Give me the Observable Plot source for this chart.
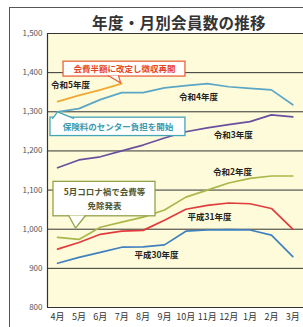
<!DOCTYPE html>
<html>
<head>
<meta charset="utf-8">
<script src="https://cdn.jsdelivr.net/npm/d3@7"></script>
<script src="https://cdn.jsdelivr.net/npm/@observablehq/plot@0.6"></script>
<style>
  html, body { margin: 0; padding: 0; background: #fff; }
  #wrap { position: relative; width: 303px; height: 327px; overflow: hidden; font-family: "Noto Sans CJK JP", sans-serif; }
  #frame { position: absolute; left: 9px; top: 7px; width: 320px; height: 340px; border-left: 1.5px solid #555; border-top: 1.5px solid #555; box-sizing: border-box; }
  #title { position: absolute; left: 90px; top: 11px; width: 178px; text-align: center; font-size: 15.5px; font-weight: bold; color: #333; letter-spacing: 0.3px; white-space: nowrap; }
  #chart { position: absolute; left: 0; top: 0; }
</style>
</head>
<body>
<div id="wrap">
  <div id="frame"></div>
  <div id="title">年度・月別会員数の推移</div>
  <div id="chart"></div>
</div>
<script>
const months = ["4月","5月","6月","7月","8月","9月","10月","11月","12月","1月","2月","3月"];
const yTicks = [800, 900, 1000, 1100, 1200, 1300, 1400, 1500];

const seriesNames = ["平成30年度","平成31年度","令和2年度","令和3年度","令和4年度","令和5年度"];
const seriesColors = ["#3f80bf","#e03c3c","#a9b84a","#6b4f9f","#5aa6c6","#f0a832"];
const h30 = [913, 928, 941, 954, 955, 960, 995, 998, 999, 998, 985, 930];
const h31 = [949, 966, 987, 995, 997, 1023, 1051, 1061, 1067, 1065, 1053, 1000];
const r2  = [979, 974, 1005, 1018, 1031, 1049, 1082, 1100, 1118, 1130, 1136, 1136];
const r3  = [1157, 1177, 1185, 1200, 1215, 1233, 1249, 1259, 1267, 1275, 1292, 1287];
const r4  = [1300, 1308, 1331, 1349, 1349, 1361, 1367, 1372, 1364, 1360, 1356, 1318];
const r5  = [1326, 1342, 1356, 1372];
const allSeries = [h30, h31, r2, r3, r4, r5];

// series label positions (month index, value)
const labelX = [4.63, 7.1, 8.18, 8.22, 6.59, 0.61];
const labelY = [933, 1031, 1146, 1241, 1338, 1367];

// callouts
const calloutText = [["会費半額に改定し徴収再開"], ["保険料のセンター負担を開始"], ["5月コロナ禍で会費等", "免除発表"]];
const calloutBorder = ["#e8643c", "#45a5b8", "#93a24a"];
const calloutColor = ["#e8462a", "#3a9ab0", "#4d5530"];
const boxX1 = [0.28, -0.33, -0.19], boxX2 = [5.98, 5.98, 4.58];
const boxY1 = [1390, 1238, 1033], boxY2 = [1428, 1285, 1121];
const wedgeX = [[2.38, 2.95, 2.85], [-0.23, 0, 0.75], [0.52, 0.84, 1.31]];
const wedgeY = [[1392, 1374, 1392], [1283, 1300, 1283], [1035, 1003, 1035]];

const lineData = allSeries.flatMap((vals, s) => vals.map((v, i) => ({series: seriesNames[s], i, v})));
const labelData = seriesNames.map((n, s) => ({name: n, x: labelX[s], y: labelY[s]}));
const boxData = calloutText.map((t, k) => ({k, x1: boxX1[k], x2: boxX2[k], y1: boxY1[k], y2: boxY2[k]}));
const wedgeData = wedgeX.flatMap((xs, k) => xs.map((x, j) => ({k, x, y: wedgeY[k][j]})));
const textData = calloutText.flatMap((lines, k) => lines.map((t, j) => ({
  k, t, x: (boxX1[k] + boxX2[k]) / 2,
  y: (boxY1[k] + boxY2[k]) / 2 + (lines.length - 1) * 18 - j * 36
})));

const plot = Plot.plot({
  width: 303,
  height: 327,
  marginLeft: 47,
  marginRight: 0,
  marginTop: 33,
  marginBottom: 20,
  style: {fontFamily: "'Noto Sans CJK JP', sans-serif", background: "transparent", overflow: "visible"},
  x: {type: "linear", domain: [-0.47, 11.5], axis: null},
  y: {domain: [800, 1500], axis: null},
  color: {domain: seriesNames, range: seriesColors},
  marks: [
    Plot.frame({fill: "#fefbdb", stroke: null}),
    Plot.ruleY(yTicks, {stroke: "#333", strokeWidth: 1}),
    Plot.ruleX([-0.47], {stroke: "#333", strokeWidth: 1.2}),
    Plot.axisY(yTicks, {tickSize: 0, tickPadding: 5, tickFormat: d3.format(","), fontSize: 8, fill: "#555"}),
    Plot.axisX(d3.range(12), {tickSize: 0, tickPadding: 6, tickFormat: i => months[i], fontSize: 9, fill: "#333"}),
    Plot.line(lineData, {x: "i", y: "v", z: "series", stroke: "series", strokeWidth: 1.7, curve: "linear"}),
    Plot.text(labelData, {x: "x", y: "y", text: "name", fontSize: 8.5, fontWeight: "bold", fill: "#222"}),
    Plot.rect(boxData, {x1: "x1", x2: "x2", y1: "y1", y2: "y2", fill: "#fff", stroke: d => calloutBorder[d.k], strokeWidth: 1.3}),
    Plot.line(wedgeData, {x: "x", y: "y", z: "k", fill: "#fff", stroke: d => calloutBorder[d.k], strokeWidth: 1.3}),
    Plot.text(textData, {x: "x", y: "y", text: "t", fontSize: 8.5, fontWeight: "bold", fill: d => calloutColor[d.k]})
  ]
});
document.getElementById("chart").appendChild(plot);
</script>
</body>
</html>
